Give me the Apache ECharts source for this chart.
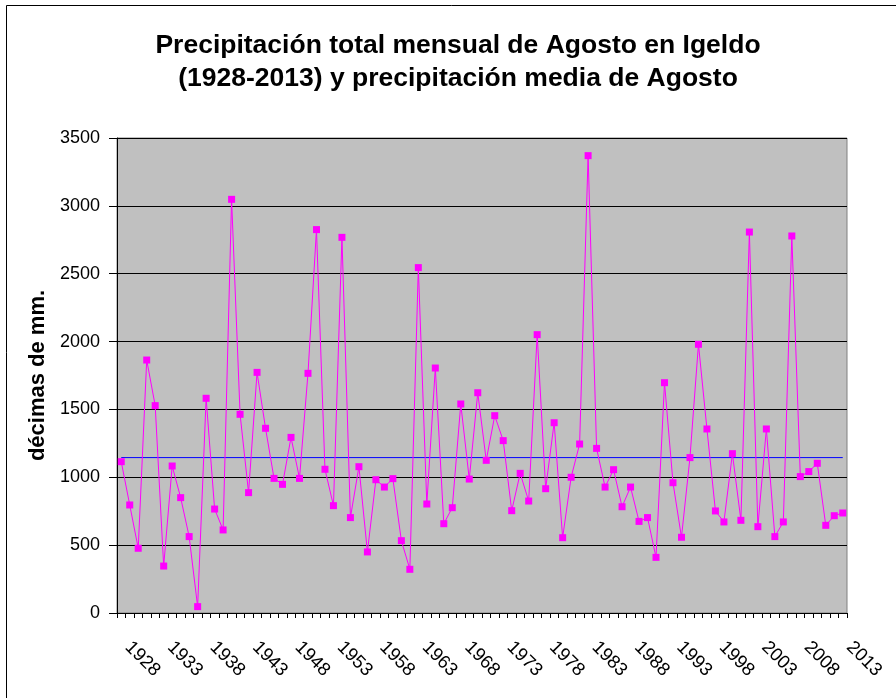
<!DOCTYPE html>
<html>
<head>
<meta charset="utf-8">
<script src="https://cdn.jsdelivr.net/npm/echarts@6/dist/echarts.min.js"></script>
<style>
html,body{margin:0;padding:0;background:#fff;}
#chart{width:896px;height:698px;}
</style>
</head>
<body>
<div id="chart"></div>
<script>
const YEARS = [];
for (let y = 1928; y <= 2013; y++) YEARS.push(String(y));

const PRECIP = [
  1115, 796, 477, 1864, 1528, 346, 1083, 850, 563, 47,
  1582, 766, 612, 3048, 1464, 887, 1773, 1361, 992, 948,
  1294, 992, 1766, 2825, 1059, 791, 2768, 703, 1078, 450,
  982, 928, 990, 533, 322, 2545, 803, 1805, 658, 776,
  1540, 987, 1623, 1125, 1454, 1270, 754, 1029, 825, 2051,
  916, 1402, 555, 1000, 1245, 3370, 1213, 928, 1056, 783,
  928, 675, 703, 410, 1697, 960, 558, 1145, 1980, 1356,
  752, 671, 1174, 683, 2807, 636, 1356, 563, 671, 2778,
  1005, 1042, 1103, 646, 717, 737
];

const MEDIA = 1145;

const Y_TICKS = [0, 500, 1000, 1500, 2000, 2500, 3000, 3500];

const TITLE = 'Precipitación total mensual de Agosto en Igeldo\n(1928-2013) y precipitación media de Agosto';
const Y_NAME = 'décimas de mm.';

const FONT = '"Liberation Sans", Arial, sans-serif';

const chart = echarts.init(document.getElementById('chart'), null, {renderer: 'canvas'});
chart.setOption({
  animation: false,
  backgroundColor: '#ffffff',
  title: {
    text: TITLE,
    left: 453,
    top: 24,
    textAlign: 'center',
    textStyle: {
      fontFamily: FONT,
      fontSize: 26.5,
      fontWeight: 'bold',
      color: '#000',
      lineHeight: 33
    }
  },
  graphic: [{
    type: 'rect',
    shape: {x: 6.5, y: 5.5, width: 1000, height: 1000},
    style: {fill: 'none', stroke: '#000', lineWidth: 1},
    silent: true,
    z: -1
  }],
  grid: {
    left: 117,
    right: 49,
    top: 138,
    bottom: 85,
    show: true,
    backgroundColor: '#c0c0c0',
    borderColor: '#808080',
    borderWidth: 1
  },
  xAxis: {
    type: 'category',
    data: YEARS,
    boundaryGap: true,
    axisLine: {show: true, lineStyle: {color: '#000', width: 1}},
    axisTick: {show: true, interval: 0, length: 5, lineStyle: {color: '#000'}},
    axisLabel: {
      interval: 4,
      rotate: -45,
      margin: 38,
      verticalAlign: 'bottom',
      fontFamily: FONT,
      fontSize: 18.5,
      color: '#000'
    },
    splitLine: {show: false}
  },
  yAxis: {
    type: 'value',
    min: Y_TICKS[0],
    max: Y_TICKS[Y_TICKS.length - 1],
    interval: Y_TICKS[1] - Y_TICKS[0],
    name: Y_NAME,
    nameLocation: 'middle',
    nameGap: 67,
    nameRotate: 90,
    nameTextStyle: {fontFamily: FONT, fontSize: 22, fontWeight: 'bold', color: '#000'},
    axisLine: {show: true, lineStyle: {color: '#000', width: 1}},
    axisTick: {show: true, length: 8, lineStyle: {color: '#000'}},
    axisLabel: {margin: 17, fontFamily: FONT, fontSize: 18, color: '#000',
      formatter: function (v) { return String(v); }},
    splitLine: {show: true, lineStyle: {color: '#000', width: 1}}
  },
  series: [
    {
      name: 'Precipitación',
      type: 'line',
      data: PRECIP,
      symbol: 'rect',
      symbolSize: 7,
      showAllSymbol: true,
      itemStyle: {color: '#ff00ff'},
      lineStyle: {color: '#ff00ff', width: 1}
    },
    {
      name: 'Media',
      type: 'line',
      data: [[0, MEDIA], [YEARS.length - 1, MEDIA]],
      symbol: 'none',
      lineStyle: {color: '#0000ff', width: 1},
      z: 1
    }
  ]
});
</script>
</body>
</html>
